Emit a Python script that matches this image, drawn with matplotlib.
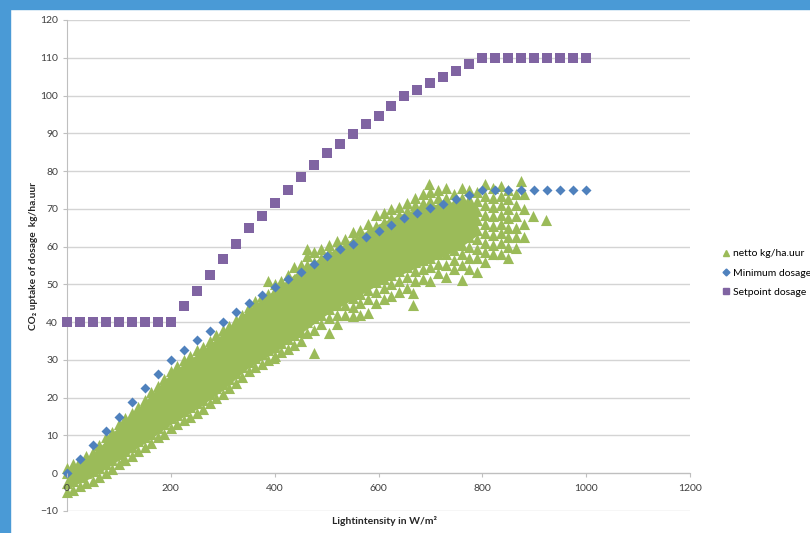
import matplotlib
matplotlib.use("Agg")
import matplotlib.pyplot as plt
from matplotlib.lines import Line2D
import numpy as np

plt.rcParams['font.family'] = ['Lato', 'DejaVu Sans']

# dosage curves (W/m2 -> kg/ha.uur)
dose_w = [0, 25, 50, 75, 100, 125, 150, 175, 200, 225, 250, 275, 300, 325, 350, 375,
          400, 425, 450, 475, 500, 525, 550, 575, 600, 625, 650, 675, 700, 725, 750,
          775, 800, 825, 850, 875, 900, 925, 950, 975, 1000]
minimum_dosage = [0, 3.75, 7.5, 11.25, 15, 18.75, 22.5, 26.25, 30, 32.6, 35.2, 37.6, 40.1,
                  42.6, 45.1, 47.1, 49.2, 51.3, 53.4, 55.3, 57.4, 59.3, 60.8, 62.5, 64.1,
                  65.8, 67.5, 68.9, 70.1, 71.3, 72.5, 73.7, 75, 75, 75, 75, 75, 75, 75, 75, 75]
setpoint_dosage = [40, 40, 40, 40, 40, 40, 40, 40, 40, 44.2, 48.3, 52.5, 56.6, 60.8, 64.9,
                   68.2, 71.5, 74.9, 78.3, 81.5, 84.9, 87.3, 89.8, 92.4, 94.7, 97.3, 99.9,
                   101.5, 103.3, 104.9, 106.6, 108.3, 110, 110, 110, 110, 110, 110, 110, 110, 110]

# measured netto uptake, read column by column off the cloud
netto_w = [0, 12.5, 25, 37.5, 50, 62.5, 75, 87.5, 100, 108, 112.5, 125, 137.5, 150, 162.5,
           175, 186, 187.5, 200, 212.5, 225, 237.5, 250, 262.5, 275, 287.5, 300, 312.5,
           325, 337.5, 350, 362.5, 375, 387.5, 398, 400, 412.5, 425, 437.5, 450,
           462, 475, 490, 505, 520, 535, 550, 565, 580, 595, 610, 625, 640, 655, 667,
           670, 685, 697, 700, 715, 730, 745, 760, 775, 790, 805, 820, 835, 850, 865,
           874, 880, 897, 922]
netto_y = [
    [-5, -2.5, 0, 1.5],
    [-4.5, -2, 0.5, 2.5],
    [-3.5, -1, 1.5, 3.5],
    [-2.5, 0, 2.5, 4.5],
    [-2, 0.5, 3, 5.5],
    [-1, 1.5, 4, 6.5, 7.5],
    [0, 2.5, 5, 7.5, 9.5],
    [1, 3.5, 6, 8.5, 11],
    [2.5, 5, 7.5, 10, 13],
    [3.6],
    [3.5, 6, 8.5, 11, 14.5],
    [4.5, 7, 9.5, 12, 16],
    [6, 8.5, 11, 13.5, 17.5],
    [7, 9.5, 12, 14.5, 17, 19.5],
    [8, 10.5, 13, 15.5, 18, 21.5],
    [9.5, 12, 14.5, 17, 19.5, 23],
    [13.7],
    [10.5, 13, 15.5, 18, 20.5, 23, 25],
    [12, 14.5, 17, 19.5, 22, 24.5, 27],
    [13, 15.5, 18, 20.5, 23, 25.5, 28.5],
    [14, 16.5, 19, 21.5, 24, 26.5, 30],
    [15, 17.5, 20, 22.5, 25, 27.5, 31],
    [16, 18.5, 21, 23.5, 26, 28.5, 32.5],
    [17, 19.5, 22, 24.5, 27, 29.5, 33.5],
    [18.5, 21, 23.5, 26, 28.5, 31, 35],
    [20, 22.5, 25, 27.5, 30, 32.5, 36.5],
    [21, 23.5, 26, 28.5, 31, 33.5, 38],
    [22.5, 25, 27.5, 30, 32.5, 35, 39],
    [24, 26.5, 29, 31.5, 34, 36.5, 40.5],
    [25.5, 28, 30.5, 33, 35.5, 38, 42],
    [27, 29.5, 32, 34.5, 37, 39.5, 42, 44],
    [28, 30.5, 33, 35.5, 38, 40.5, 43, 45.5],
    [29, 31.5, 34, 36.5, 39, 41.5, 44, 47],
    [30, 32.5, 35, 37.5, 40, 42.5, 45, 47.5, 51],
    [30.5],
    [31, 33.5, 36, 38.5, 41, 43.5, 46, 48.5, 50],
    [32, 34.5, 37, 39.5, 42, 44.5, 47, 49.5, 51],
    [33, 35.5, 38, 40.5, 43, 45.5, 48, 50.5, 52.5],
    [34, 36.5, 39, 41.5, 44, 46.5, 49, 51.5, 54.5],
    [35, 37.5, 40, 42.5, 45, 47.5, 50, 52.5, 55],
    [37, 40, 42.5, 45, 47.5, 50, 52.5, 55, 57.5, 59.4],
    [31.8, 38, 41, 43.5, 46, 48.5, 51, 53.5, 56, 58.5],
    [39.5, 42, 44.5, 47, 49.5, 52, 54.5, 57, 59.5],
    [37, 41, 43.5, 46, 48.5, 51, 53.5, 56, 58.5, 60.5],
    [39.5, 42, 44.5, 47, 49.5, 52, 54.5, 57, 59.5, 61.5],
    [42, 44.5, 47, 49.5, 52, 54.5, 57, 59.5, 62],
    [41.5, 44, 46.5, 49, 51.5, 54, 56.5, 59, 61.5, 64],
    [42, 45, 47.5, 50, 52.5, 55, 57.5, 60, 62.5, 64.5],
    [42.4, 46, 48.5, 51, 53.5, 56, 58.5, 61, 63.5, 66],
    [45, 48, 50.5, 53, 55.5, 58, 60.5, 63, 65.5, 68.5],
    [46, 49, 51.5, 54, 56.5, 59, 61.5, 64, 66.5, 69],
    [47, 50, 52.5, 55, 57.5, 60, 62.5, 65, 67.5, 70],
    [48, 51, 53.5, 56, 58.5, 61, 63.5, 66, 68.5, 70.5],
    [49, 52, 54.5, 57, 59.5, 62, 64.5, 67, 69.5, 71.5],
    [44.6, 47.7],
    [51, 53.5, 56, 58.5, 61, 63.5, 66, 68.5, 71, 73],
    [51.5, 54, 56.5, 59, 61.5, 64, 66.5, 69, 71.5, 74],
    [76.6],
    [51, 54.5, 57, 59.5, 62, 64.5, 67, 69.5, 72, 74.5],
    [53, 55.5, 58, 60.5, 63, 65.5, 68, 70.5, 73, 75],
    [52, 55, 58, 60.5, 63, 65.5, 68, 70.5, 73, 75.5],
    [54, 56.5, 59, 61.5, 64, 66.5, 69, 71.5, 74],
    [51.2, 55, 58, 60.5, 63, 65.5, 68, 70.5, 73, 75.5],
    [54, 57, 60, 62.5, 65, 67.5, 70, 72.5, 75],
    [53.4, 57, 59.5, 62, 64.5, 67, 69.5, 72, 74.5],
    [56, 58.5, 61, 63.5, 66, 68.5, 71, 73.5, 76.5],
    [58, 60.5, 63, 65.5, 68, 70.5, 73, 75.5],
    [58, 61, 63.5, 66, 68.5, 71, 73.5, 76],
    [57.1, 60, 62.5, 65, 67.5, 70, 72.5, 75],
    [59.6, 62.5, 65, 68, 71, 74],
    [77.5],
    [62.6, 66, 70, 74],
    [68],
    [67.1],
]

# where the triangles overlap into a solid mass
core_w = [0, 50, 100, 150, 200, 250, 300, 350, 400, 450, 500, 550, 600, 650, 700, 750, 790]
core_low = [-4, -1, 3.5, 8, 13, 17, 22, 28, 32, 37, 42, 46, 50, 53, 56, 59, 63]
core_high = [1, 5, 12.5, 19, 26.5, 31.5, 37, 43.5, 48.5, 54, 58, 62, 66, 69, 71, 72, 71]

green = '#9bbb59'
blue = '#4f81bd'
purple = '#8064a2'
edge_blue = '#4a9ad6'

fig = plt.figure(figsize=(8.1, 5.33), dpi=100)
fig.patches.append(plt.Rectangle((0, 0), 10/810, 1, transform=fig.transFigure,
                                 color=edge_blue, zorder=0))
fig.patches.append(plt.Rectangle((0, 1-9/533), 1, 9/533, transform=fig.transFigure,
                                 color=edge_blue, zorder=0))
ax = fig.add_axes([67/810, 1-511/533, (690-67)/810, (511-20)/533])

xs, ys = [], []
for w, col in zip(netto_w, netto_y):
    for v in col:
        xs.append(w)
        ys.append(v)
ax.fill_between(core_w, core_low, core_high, color=green, linewidth=0, zorder=2.9)
ax.scatter(xs, ys, marker='^', s=64, color=green, linewidths=0, clip_on=False, zorder=3)
ax.scatter(dose_w, minimum_dosage, marker='D', s=26, color=blue, linewidths=0, clip_on=False, zorder=4)
ax.scatter(dose_w, setpoint_dosage, marker='s', s=44, color=purple, linewidths=0, clip_on=False, zorder=5)

ax.set_xlim(0, 1200)
ax.set_ylim(-10, 120)
ax.set_yticks(range(-10, 121, 10))
ax.set_xticks(range(0, 1201, 200))
ax.yaxis.grid(True, color='#d4d4d4', linewidth=1)
ax.set_axisbelow(True)
ax.xaxis.set_zorder(6)
for s in ['top', 'right']:
    ax.spines[s].set_visible(False)
ax.spines['bottom'].set_position(('data', 0))
ax.spines['bottom'].set_color('#bfbfbf')
ax.spines['left'].set_color('#bfbfbf')
ax.tick_params(axis='both', colors='#bfbfbf', labelcolor='#404040', labelsize=7.5,
               length=3, width=0.8)
ax.tick_params(axis='y', pad=3.5)
ax.tick_params(axis='x', pad=4.5)

ax.set_ylabel('CO₂ uptake of dosage  kg/ha.uur', fontsize=7.3, weight='bold', color='#262626')
ax.yaxis.set_label_coords(-0.047, 0.52)
fig.text(384/810, 1-521/533, 'Lightintensity in W/m²', fontsize=7.5, weight='bold',
         color='#262626', ha='center', va='center')

handles = [Line2D([], [], marker='^', ls='', color=green, markersize=5),
           Line2D([], [], marker='D', ls='', color=blue, markersize=3.5),
           Line2D([], [], marker='s', ls='', color=purple, markersize=4.5)]
labels = ['netto kg/ha.uur', 'Minimum dosage', 'Setpoint dosage']
fig.legend(handles, labels, loc='center left', bbox_to_anchor=(718/810, 1-273/533),
           frameon=False, fontsize=7.5, handlelength=0.7, handletextpad=0.3,
           labelspacing=0.95, borderaxespad=0)

plt.savefig('out.png', dpi=100)
